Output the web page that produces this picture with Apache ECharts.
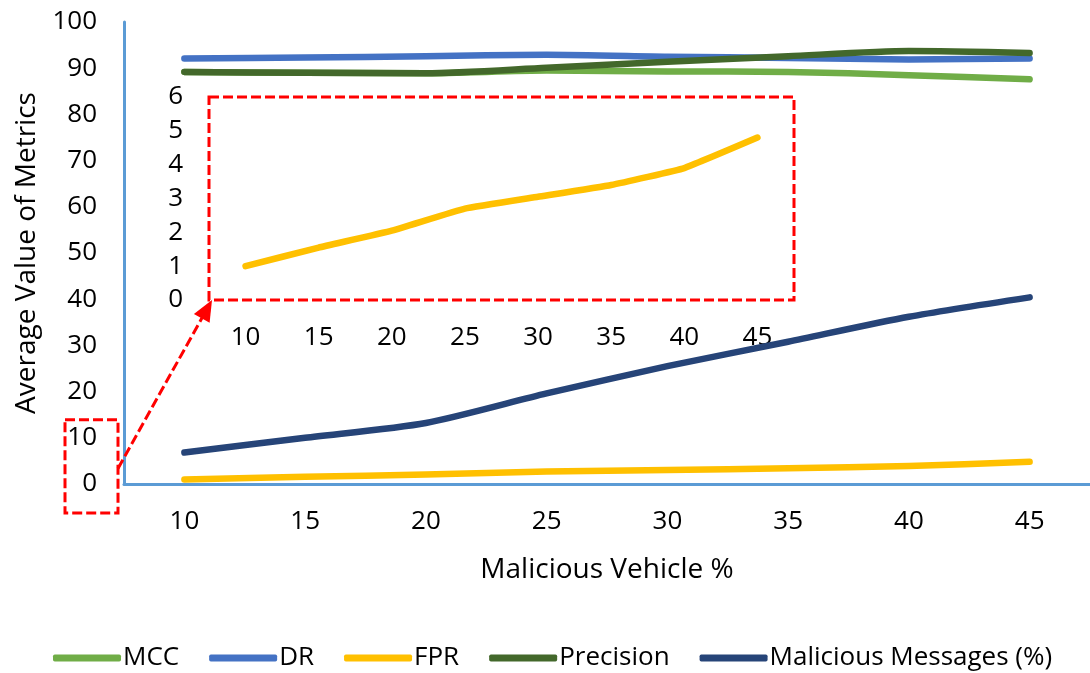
<!DOCTYPE html>
<html>
<head>
<meta charset="utf-8">
<script src="https://cdn.jsdelivr.net/npm/echarts@6/dist/echarts.min.js"></script>
<style>
  html, body { margin: 0; padding: 0; background: #fff; }
  #chart { width: 1090px; height: 673px; }
</style>
</head>
<body>
<div id="chart"></div>
<script>
// Malicious vehicle share on the x axis
const categories = ['10', '15', '20', '25', '30', '35', '40', '45'];

// Metric values per malicious vehicle %
const mcc       = [89.2, 89.0, 88.9, 89.5, 89.3, 89.2, 88.5, 87.6];
const dr        = [92.1, 92.3, 92.6, 92.9, 92.5, 92.2, 91.9, 92.1];
const fpr       = [1.0, 1.55, 2.05, 2.7, 3.05, 3.4, 3.9, 4.8];
const precision = [89.2, 89.0, 88.9, 90.1, 91.4, 92.6, 93.7, 93.3];
const maliciousMessages = [6.8, 10.0, 13.2, 19.6, 25.5, 30.8, 36.2, 40.4];

// Tick values for the two y axes
const mainTicks  = [0, 10, 20, 30, 40, 50, 60, 70, 80, 90, 100];
const insetTicks = [0, 1, 2, 3, 4, 5, 6];

const FONT = '"Open Sans", "Noto Sans", sans-serif';
const TEXT = '#000';
const AXIS_BLUE = '#5B9BD5';
const RED = '#FF0000';

const colors = {
  MCC: '#70AD47',
  DR: '#4472C4',
  FPR: '#FFC000',
  Precision: '#43682B',
  'Malicious Messages (%)': '#264478'
};

function lineSeries(name, data, axisIdx, smooth) {
  return {
    name: name,
    type: 'line',
    xAxisIndex: axisIdx,
    yAxisIndex: axisIdx,
    data: data,
    smooth: smooth,
    symbol: 'none',
    color: colors[name],
    lineStyle: { width: 6.5, color: colors[name], cap: 'round', join: 'round' },
    emphasis: { disabled: true },
    animation: false
  };
}

const chart = echarts.init(document.getElementById('chart'), null, { renderer: 'canvas' });

const option = {
  backgroundColor: '#fff',
  animation: false,
  textStyle: { fontFamily: FONT, color: TEXT },
  legend: {
    data: ['MCC', 'DR', 'FPR', 'Precision', 'Malicious Messages (%)'],
    left: 48,
    top: 640,
    icon: 'roundRect',
    itemWidth: 68,
    itemHeight: 7,
    itemGap: 30,
    selectedMode: false,
    textStyle: { fontFamily: FONT, fontSize: 26, color: TEXT, padding: [0, 0, 0, -3] }
  },
  grid: [
    { left: 124, top: 22, right: -8, bottom: 189, containLabel: false },
    { left: 209, top: 97, width: 585, height: 203, containLabel: false }
  ],
  xAxis: [
    {
      type: 'category',
      gridIndex: 0,
      data: categories,
      boundaryGap: true,
      name: 'Malicious Vehicle %',
      nameLocation: 'middle',
      nameGap: 72,
      nameTextStyle: { fontFamily: FONT, fontSize: 28, color: TEXT },
      axisLine: { show: true, lineStyle: { color: AXIS_BLUE, width: 3 } },
      axisTick: { show: false },
      axisLabel: { fontFamily: FONT, fontSize: 26, color: TEXT, margin: 25 },
      splitLine: { show: false }
    },
    {
      type: 'category',
      gridIndex: 1,
      data: categories,
      boundaryGap: true,
      axisLine: { show: false },
      axisTick: { show: false },
      axisLabel: { fontFamily: FONT, fontSize: 26, color: TEXT, margin: 25 },
      splitLine: { show: false }
    }
  ],
  yAxis: [
    {
      type: 'value',
      gridIndex: 0,
      min: mainTicks[0],
      max: mainTicks[mainTicks.length - 1],
      interval: mainTicks[1] - mainTicks[0],
      name: 'Average Value of Metrics',
      nameLocation: 'middle',
      nameGap: 80,
      nameRotate: 90,
      nameTextStyle: { fontFamily: FONT, fontSize: 28, color: TEXT },
      axisLine: { show: true, lineStyle: { color: AXIS_BLUE, width: 3 } },
      axisTick: { show: false },
      axisLabel: { fontFamily: FONT, fontSize: 26, color: TEXT, margin: 27 },
      splitLine: { show: false }
    },
    {
      type: 'value',
      gridIndex: 1,
      min: insetTicks[0],
      max: insetTicks[insetTicks.length - 1],
      interval: insetTicks[1] - insetTicks[0],
      axisLine: { show: false },
      axisTick: { show: false },
      axisLabel: { fontFamily: FONT, fontSize: 26, color: TEXT, margin: 26 },
      splitLine: { show: false }
    }
  ],
  series: [
    lineSeries('MCC', mcc, 0, 0.25),
    lineSeries('DR', dr, 0, 0.25),
    lineSeries('FPR', fpr, 0, 0.25),
    lineSeries('Precision', precision, 0, 0.25),
    lineSeries('Malicious Messages (%)', maliciousMessages, 0, 0.25),
    Object.assign(lineSeries('FPR', fpr, 1, 0.1), { legendHoverLink: false })
  ]
};

chart.setOption(option);

// Dashed callout: box around the low end of the main axis, arrow to the zoomed inset
function drawCallout() {
  const p0 = chart.convertToPixel({ xAxisIndex: 0, yAxisIndex: 0 }, [categories[0], 0]);
  const p10 = chart.convertToPixel({ xAxisIndex: 0, yAxisIndex: 0 }, [categories[0], 10]);
  const gridRect = chart.getModel().getComponent('grid', 0).coordinateSystem.getRect();
  const insetRect = chart.getModel().getComponent('grid', 1).coordinateSystem.getRect();

  const axisX = gridRect.x;
  const boxLeft = axisX - 59, boxRight = axisX - 6;
  const boxTop = p10[1] - 18, boxBottom = p0[1] + 29;

  const start = [boxRight, (boxTop + boxBottom) / 2 + 2];
  const tip = [insetRect.x + 3, insetRect.y + insetRect.height];
  const dx = tip[0] - start[0], dy = tip[1] - start[1];
  const len = Math.sqrt(dx * dx + dy * dy);
  const ux = dx / len, uy = dy / len;
  const headLen = 21, headHalf = 9;
  const base = [tip[0] - ux * headLen, tip[1] - uy * headLen];
  const nx = -uy, ny = ux;

  const dash = { stroke: RED, lineWidth: 3, lineDash: [10, 4], fill: null };

  chart.setOption({
    graphic: [
      {
        type: 'rect', silent: true, z: 10,
        shape: { x: insetRect.x, y: insetRect.y, width: insetRect.width, height: insetRect.height },
        style: dash
      },
      {
        type: 'rect', silent: true, z: 10,
        shape: { x: boxLeft, y: boxTop, width: boxRight - boxLeft, height: boxBottom - boxTop },
        style: dash
      },
      {
        type: 'line', silent: true, z: 10,
        shape: { x1: start[0], y1: start[1], x2: base[0] + ux * 2, y2: base[1] + uy * 2 },
        style: { stroke: RED, lineWidth: 3, lineDash: [10, 4] }
      },
      {
        type: 'polygon', silent: true, z: 10,
        shape: {
          points: [
            tip,
            [base[0] + nx * headHalf, base[1] + ny * headHalf],
            [base[0] - nx * headHalf, base[1] - ny * headHalf]
          ]
        },
        style: { fill: RED, stroke: null }
      }
    ]
  });
}
drawCallout();
</script>
</body>
</html>
